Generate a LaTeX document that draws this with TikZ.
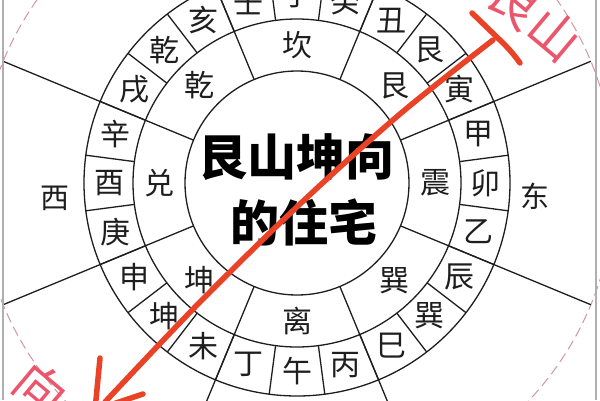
\documentclass[tikz,border=0pt]{standalone}
\usepackage{fontspec}
\newfontfamily\cjk{Noto Sans CJK SC}
\definecolor{inkc}{RGB}{30,30,30}
\definecolor{arrowred}{RGB}{234,66,38}
\definecolor{pinktext}{RGB}{236,86,108}
\definecolor{dashpink}{RGB}{210,150,162}
\definecolor{framegray}{RGB}{175,175,175}
\begin{document}
\begin{tikzpicture}[x=1pt,y=-1pt,
  ringline/.style={line width=1.3pt, draw=inkc},
  dashcircle/.style={line width=1pt, draw=dashpink, dash pattern=on 10pt off 5pt},
  glyph/.style={font=\cjk\fontsize{30}{30}\selectfont, text=inkc, inner sep=0pt},
  dirglyph/.style={font=\cjk\fontsize{29}{29}\selectfont, text=inkc, inner sep=0pt},
  centertext/.style={font=\cjk\bfseries\fontsize{49}{49}\selectfont, text=black, inner sep=0pt},
  pinklabel/.style={font=\cjk\fontsize{50}{50}\selectfont, text=pinktext, inner sep=0pt, rotate=-40},
  redstroke/.style={line width=5.5pt, draw=arrowred, line cap=round, line join=round}]
\useasboundingbox (0,0) rectangle (600,400);
\fill[white] (0,0) rectangle (600,400);
\clip (0,0) rectangle (600,400);
\coordinate (c) at (297,183);
\begin{scope}[shift={(297,183)}]
  \draw[dashcircle] (0,0) circle (318);
  \draw[ringline] (0,0) circle (112);
  \draw[ringline] (0,0) circle (164);
  \draw[ringline] (0,0) circle (213);
  \foreach \k in {0,...,23}
    \draw[ringline] ({7.5+15*\k-90}:164) -- ({7.5+15*\k-90}:213);
  \foreach \m in {0,...,7}
    \draw[ringline] ({22.5+45*\m-90}:112) -- ({22.5+45*\m-90}:318);
  \foreach \b/\t [count=\i] in {0/子,15/癸,30/丑,45/艮,60/寅,75/甲,90/卯,105/乙,120/辰,135/巽,150/巳,165/丙,180/午,195/丁,210/未,225/坤,240/申,255/庚,270/酉,285/辛,300/戌,315/乾,330/亥,345/壬}
    \node[glyph] (mtn\i) at ({\b-90}:188) {\t};
  \foreach \b/\t [count=\i] in {0/坎,45/艮,90/震,135/巽,180/离,225/坤,270/兑,315/乾}
    \node[glyph] (gua\i) at ({\b-90}:138) {\t};
\end{scope}
\node[dirglyph] (west) at (55,198) {西};
\node[dirglyph] (east) at (535,196) {东};
\node[centertext] (title1) at (296,157) {艮山坤向};
\node[centertext] (title2) at (304,222) {的住宅};
% frame edges
\draw[framegray, line width=1.2pt] (3,0) -- (3,400);
\draw[framegray, line width=1.2pt] (596,0) -- (596,400);
% pink labels
\node[pinklabel] (genshan) at (535,18) {艮山};
\node[pinklabel] (xiang) at (41,389) {向};
% red arrow
\coordinate (tstart) at (493,40);
\coordinate (tip) at (95,410);
\draw[redstroke] (472,13) -- (503,43) .. controls (510,50) and (515,56) .. (520,63);
\draw[redstroke] plot[smooth, tension=0.55] coordinates {(tstart) (400,114) (300,204) (200,302) (105,402)};
\draw[redstroke] (100,358) -- (tip);
\draw[redstroke] (143,394) -- (tip);
\end{tikzpicture}
\end{document}
